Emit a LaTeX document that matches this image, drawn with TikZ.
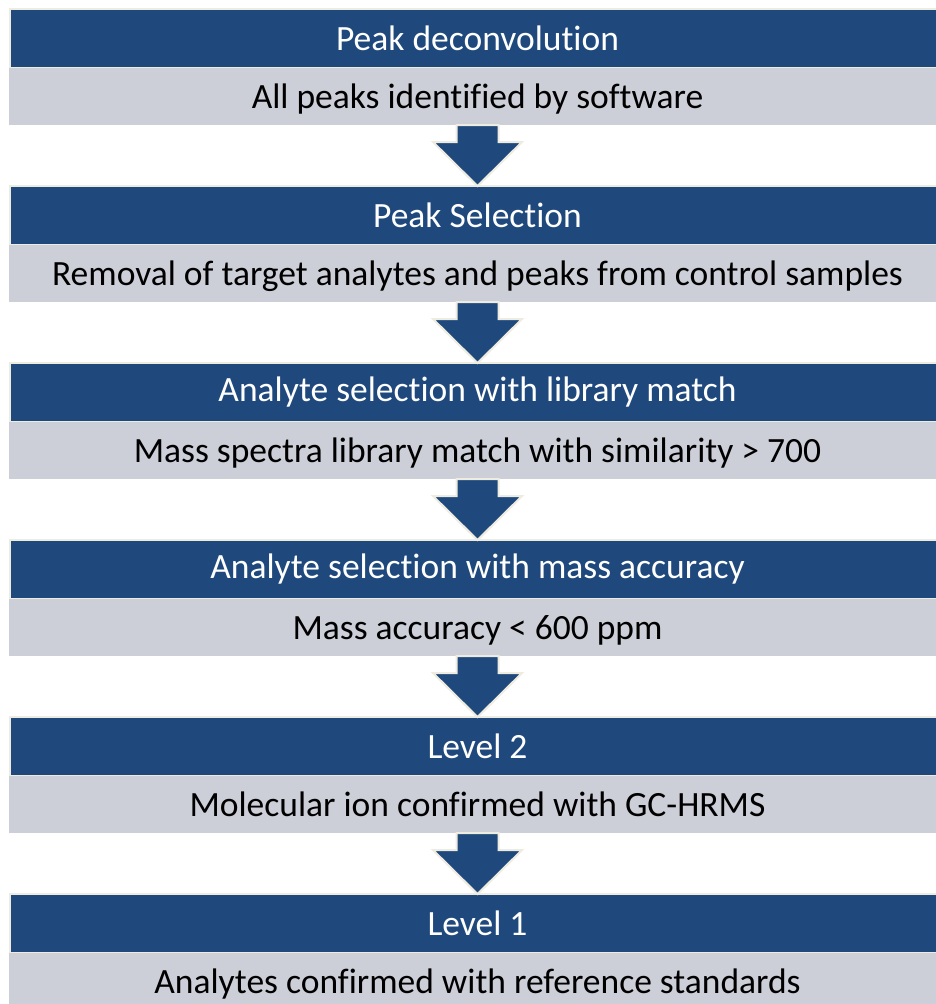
\documentclass[tikz,border=0pt]{standalone}
\usepackage{fontspec}
\setmainfont[Ligatures=NoCommon]{Carlito}
\usetikzlibrary{positioning, calc}
\definecolor{headblue}{RGB}{31,73,125}
\definecolor{bodygray}{RGB}{204,206,216}
\definecolor{rimbeige}{RGB}{238,235,224}
\tikzset{
    x=1pt, y=1pt, % one unit is one pixel of the page
    head/.style={
            fill=headblue,
            draw=rimbeige,
            line width=2pt, % light rim round the dark bar
            outer sep=0pt,
            inner sep=0pt,
            minimum width=935pt,
            minimum height=59pt,
            text=white,
            font=\fontsize{35.5}{40}\selectfont
        },
    body/.style={
            fill=bodygray,
            outer sep=0pt,
            inner sep=0pt,
            minimum width=937pt,
            minimum height=57pt,
            text height=32pt, % keeps every baseline at the same place
            text depth=8pt,
            text=black,
            font=\fontsize{35.5}{40}\selectfont
        },
    flowarrow/.style={
            fill=headblue,
            draw=rimbeige,
            line width=2pt,
            line join=miter
        }
}

\begin{document}
\begin{tikzpicture}
                \useasboundingbox (0,0) rectangle (935,-1004);

                % nodes
                \node[head] (h1) at (477.5,-38.5) {Peak deconvolution};
                \node[body, below=0pt of h1] (b1) {All peaks identified by software};
                \node[head, below=61pt of b1] (h2) {Peak Selection};
                \node[body, below=0pt of h2] (b2) {Removal of target analytes and peaks from control samples};
                \node[head, below=61pt of b2] (h3) {Analyte selection with library match};
                \node[body, below=0pt of h3] (b3) {Mass spectra library match with similarity > 700};
                \node[head, below=61pt of b3] (h4) {Analyte selection with mass accuracy};
                \node[body, below=0pt of h4] (b4) {Mass accuracy < 600 ppm};
                \node[head, below=61pt of b4] (h5) {Level 2};
                \node[body, below=0pt of h5] (b5) {Molecular ion confirmed with GC-HRMS};
                \node[head, below=61pt of b5] (h6) {Level 1};
                \node[body, below=0pt of h6] (b6) {Analytes confirmed with reference standards};

                % edges
                \foreach \a/\b in {b1/h2, b2/h3, b3/h4, b4/h5, b5/h6}
                    \draw[flowarrow] ($(\a.south)+(-21,0)$) -- ($(\a.south)+(21,0)$)
                        -- ($(\b.north)+(21,44)$) -- ($(\b.north)+(44.5,44)$)
                        -- (\b.north)
                        -- ($(\b.north)+(-44.5,44)$) -- ($(\b.north)+(-21,44)$) -- cycle;

        \end{tikzpicture}
\end{document}
